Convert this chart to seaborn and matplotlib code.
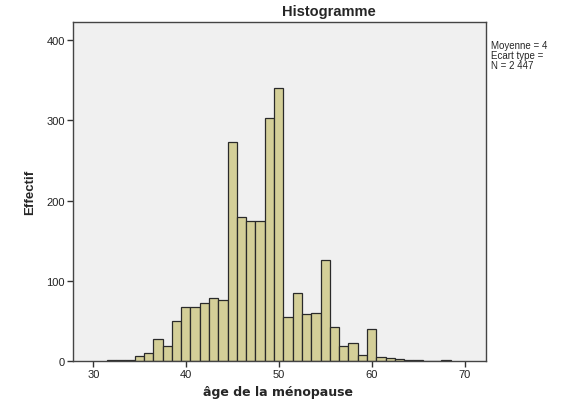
import numpy as np
import pandas as pd
import seaborn as sns
import matplotlib
matplotlib.use("Agg")
import matplotlib.pyplot as plt

sns.set_style("white")
plt.rcParams["font.family"] = ["Liberation Sans", "DejaVu Sans"]

# age bins (start of each 1-year bin) and counts
age_start = [31, 32, 33, 34, 35, 36, 37, 38, 39, 40, 41, 42, 43, 44, 45, 46, 47, 48, 49,
             50, 51, 52, 53, 54, 55, 56, 57, 58, 59, 60, 61, 62, 63, 64, 65, 66, 67]
counts = [1, 1, 1, 6, 10, 27, 19, 50, 67, 67, 72, 79, 76, 273, 180, 174, 175, 303, 341,
          55, 85, 58, 60, 126, 42, 19, 22, 8, 40, 5, 4, 2, 1, 1, 0, 0, 1]
x_ticks = [30, 40, 50, 60, 70]
y_ticks = [0, 100, 200, 300, 400]
stats_text = "Moyenne = 4\nEcart type =\nN = 2 447"

offset = 0.45  # SPSS bin edges sit at .45
df = pd.DataFrame({"age": np.array(age_start) + offset + 0.5, "n": counts})
lo = age_start[0] + offset
hi = age_start[-1] + 1 + offset

fig = plt.figure(figsize=(5.71, 4.06), dpi=100)
ax = fig.add_axes([73 / 571, 1 - 362 / 406, (486 - 73) / 571, (362 - 23) / 406])
ax.set_facecolor("#f0f0f0")

sns.histplot(data=df, x="age", weights="n", binwidth=1, binrange=(lo, hi), ax=ax,
             color="#d4cf98", edgecolor="#2a2a2a", linewidth=0.9, alpha=1)

ax.set_xlim(27.8, 72.27)
ax.set_ylim(0, 422.7)
ax.set_xticks(x_ticks)
ax.set_yticks(y_ticks)
ax.tick_params(axis="both", direction="out", length=4, width=1, color="#333333",
               labelsize=8, labelcolor="#222222", bottom=True, left=True, pad=2)
for s in ax.spines.values():
    s.set_color("#444444")
    s.set_linewidth(1.0)

ax.set_xlabel("")
ax.set_ylabel("")
fig.text(278 / 571, 1 - 393 / 406, "âge de la ménopause", ha="center", va="center",
         fontsize=9, fontweight="bold", family="DejaVu Sans")
fig.text(30 / 571, 1 - 192 / 406, "Effectif", ha="center", va="center", rotation=90,
         fontsize=9.5, fontweight="bold")
fig.text(329 / 571, 1 - 12 / 406, "Histogramme", ha="center", va="center",
         fontsize=10.5, fontweight="bold")
fig.text(491 / 571, 1 - 41 / 406, stats_text, ha="left", va="top",
         fontsize=7, linespacing=1.0)

fig.savefig("out.png", dpi=100)
